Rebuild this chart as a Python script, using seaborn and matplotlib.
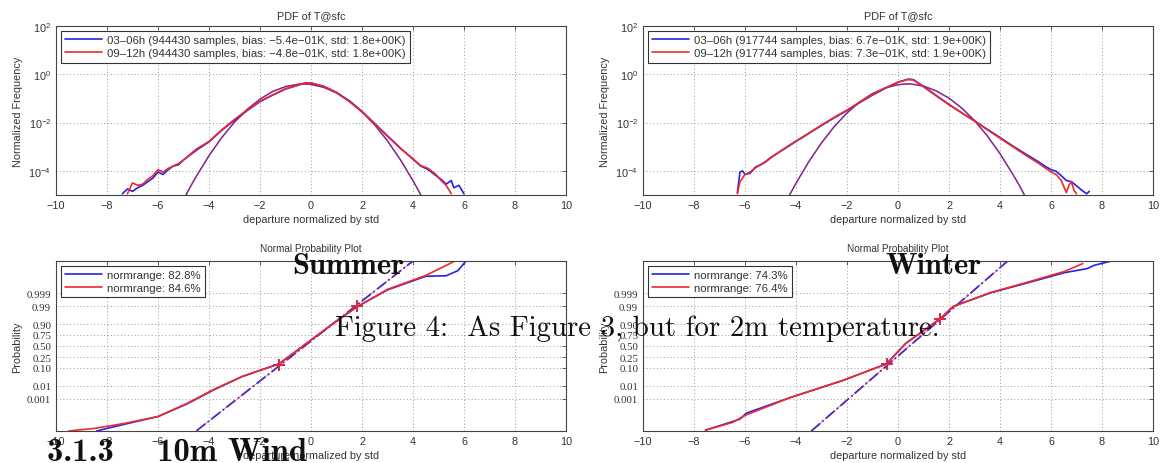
import matplotlib
matplotlib.use('Agg')
import matplotlib.pyplot as plt
import seaborn as sns
import numpy as np
from statistics import NormalDist
from matplotlib.ticker import NullLocator


# ---- data ------------------------------------------------------------------
# PDF panels: x = departure normalized by std, y = log10(normalized frequency)
summer_blue_x = [-7.4, -7.2, -7.0, -6.8, -6.6, -6.4, -6.2, -6.0, -5.8, -5.6, -5.4, -5.2, -5.0,
                 -4.5, -4.0, -3.5, -3.0, -2.5, -2.0, -1.5, -1.0, -0.5, -0.2, 0.0, 0.5, 1.0, 1.5,
                 2.0, 2.5, 3.0, 3.5, 4.0, 4.3, 4.6, 4.9, 5.1, 5.3, 5.5, 5.6, 5.8, 6.0]
summer_blue_exp = [-4.95, -4.75, -4.85, -4.7, -4.6, -4.45, -4.3, -4.05, -4.15, -3.95, -3.8, -3.75, -3.55,
                   -3.15, -2.8, -2.32, -1.9, -1.5, -1.13, -0.86, -0.61, -0.45, -0.35, -0.36, -0.5, -0.75, -1.1,
                   -1.54, -2.04, -2.55, -3.05, -3.52, -3.8, -3.95, -4.2, -4.35, -4.55, -4.4, -4.7, -4.6, -4.95]
summer_red_x = [-7.2, -7.0, -6.8, -6.6, -6.4, -6.2, -6.0, -5.8, -5.6, -5.4, -5.2, -5.0,
                -4.5, -4.0, -3.5, -3.0, -2.5, -2.0, -1.5, -1.0, -0.5, -0.2, 0.0, 0.5, 1.0, 1.5,
                2.0, 2.5, 3.0, 3.5, 4.0, 4.3, 4.6, 4.9, 5.1, 5.3, 5.5]
summer_red_exp = [-4.95, -4.5, -4.6, -4.55, -4.35, -4.2, -3.95, -4.05, -3.9, -3.8, -3.7, -3.55,
                  -3.1, -2.78, -2.3, -1.87, -1.47, -1.12, -0.85, -0.6, -0.44, -0.35, -0.36, -0.5, -0.76, -1.13,
                  -1.56, -2.06, -2.57, -3.07, -3.5, -3.78, -3.9, -4.15, -4.4, -4.6, -4.95]
summer_fit_x = [-4.9, -4.7, -4.5, -4.0, -3.5, -3.0, -2.5, -2.0, -1.5, -1.0, -0.5, -0.3, 0.0,
                0.5, 1.0, 1.5, 2.0, 2.5, 3.0, 3.5, 4.0, 4.2, 4.35]
summer_fit_exp = [-4.99, -4.6, -4.23, -3.37, -2.62, -1.98, -1.45, -1.03, -0.71, -0.51, -0.41, -0.40, -0.42,
                  -0.54, -0.77, -1.10, -1.55, -2.10, -2.76, -3.53, -4.41, -4.79, -5.09]

winter_blue_x = [-6.3, -6.2, -6.1, -6.0, -5.8, -5.6, -5.4, -5.2, -5.0, -4.5, -4.0, -3.5, -3.0, -2.5,
                 -2.0, -1.5, -1.0, -0.5, 0.0, 0.4, 0.6, 1.0, 1.5, 2.0, 2.5, 3.0, 3.5, 4.0, 4.5, 5.0,
                 5.5, 5.8, 6.0, 6.2, 6.4, 6.6, 6.8, 7.0, 7.2, 7.4, 7.5]
winter_blue_exp = [-4.9, -4.05, -4.0, -4.15, -4.1, -3.85, -3.75, -3.62, -3.45, -3.12, -2.78, -2.45, -2.12, -1.8,
                   -1.5, -1.17, -0.86, -0.58, -0.33, -0.2, -0.22, -0.5, -0.88, -1.25, -1.6, -1.93, -2.28, -2.62, -2.97, -3.3,
                   -3.62, -3.83, -3.95, -4.02, -4.2, -4.4, -4.45, -4.62, -4.8, -4.95, -4.85]
winter_red_x = [-6.3, -6.2, -6.0, -5.8, -5.6, -5.4, -5.2, -5.0, -4.5, -4.0, -3.5, -3.0, -2.5,
                -2.0, -1.5, -1.0, -0.5, 0.0, 0.4, 0.6, 1.0, 1.5, 2.0, 2.5, 3.0, 3.5, 4.0, 4.5, 5.0,
                5.5, 5.8, 6.0, 6.2, 6.4, 6.6, 6.7, 6.8, 6.9, 7.0]
winter_red_exp = [-4.95, -4.45, -4.15, -4.05, -3.88, -3.76, -3.64, -3.47, -3.1, -2.76, -2.44, -2.1, -1.78,
                  -1.48, -1.15, -0.85, -0.57, -0.32, -0.22, -0.24, -0.52, -0.9, -1.26, -1.6, -1.94, -2.3, -2.65, -3.0, -3.35,
                  -3.68, -3.9, -4.05, -4.15, -4.4, -4.9, -4.6, -4.45, -4.8, -4.95]
winter_fit_x = [-4.25, -4.0, -3.5, -3.0, -2.5, -2.0, -1.5, -1.0, -0.5, 0.0, 0.35, 0.5,
                1.0, 1.5, 2.0, 2.5, 3.0, 3.5, 4.0, 4.5, 4.75, 4.95]
winter_fit_exp = [-4.99, -4.51, -3.62, -2.84, -2.16, -1.60, -1.14, -0.80, -0.56, -0.43, -0.40, -0.40,
                  -0.49, -0.69, -0.99, -1.40, -1.92, -2.55, -3.29, -4.14, -4.59, -4.99]

# normal probability panels: x = departure, z = normal quantile of probability
summer_blue_np_x = [-8.4, -8.0, -7.3, -6.0, -4.85, -3.84, -2.7, -1.25, 0.0, 0.9, 1.8, 3.0, 4.5, 5.3, 5.76, 6.08]
summer_blue_np_z = [-5.0, -4.85, -4.6, -4.15, -3.4, -2.6, -1.8, -1.05, 0.35, 1.35, 2.3, 3.3, 4.1, 4.13, 4.43, 5.0]
summer_red_np_x = [-9.5, -8.5, -7.3, -6.0, -4.85, -3.84, -2.7, -1.25, 0.0, 0.9, 1.8, 3.0, 4.5, 5.65]
summer_red_np_z = [-5.0, -4.85, -4.55, -4.15, -3.37, -2.58, -1.79, -1.05, 0.35, 1.36, 2.3, 3.33, 4.15, 5.0]
summer_ref_x = [-4.5, 4.0]
summer_ref_z = [-5.0, 5.0]
summer_mark_x = [-1.25, 1.8]
summer_mark_z = [-1.1, 2.35]

winter_blue_np_x = [-7.55, -6.5, -6.2, -5.95, -4.2, -2.17, -0.45, 0.3, 1.65, 2.17, 3.62, 5.07, 6.52, 7.41, 7.7, 8.3]
winter_blue_np_z = [-4.95, -4.45, -4.3, -3.95, -3.02, -2.03, -1.05, 0.15, 1.6, 2.33, 3.12, 3.71, 4.31, 4.55, 4.75, 4.97]
winter_red_np_x = [-7.55, -6.5, -5.95, -4.2, -2.17, -0.45, 0.3, 1.65, 2.17, 3.62, 5.07, 6.52, 7.25]
winter_red_np_z = [-4.95, -4.5, -4.05, -3.02, -2.03, -1.05, 0.15, 1.6, 2.33, 3.14, 3.75, 4.38, 4.85]
winter_ref_x = [-3.4, 4.3]
winter_ref_z = [-5.0, 5.0]
winter_mark_x = [-0.45, 1.65]
winter_mark_z = [-1.05, 1.6]

summer_pdf_labels = ['03\u201306h (944430 samples, bias: \u22125.4e\u221201K, std: 1.8e+00K)',
                     '09\u201312h (944430 samples, bias: \u22124.8e\u221201K, std: 1.8e+00K)']
winter_pdf_labels = ['03\u201306h (917744 samples, bias: 6.7e\u221201K, std: 1.9e+00K)',
                     '09\u201312h (917744 samples, bias: 7.3e\u221201K, std: 1.9e+00K)']
summer_np_labels = ['normrange: 82.8%', 'normrange: 84.6%']
winter_np_labels = ['normrange: 74.3%', 'normrange: 76.4%']

prob_ticks = [0.001, 0.01, 0.10, 0.25, 0.50, 0.75, 0.90, 0.99, 0.999]
prob_tick_labels = ['0.001', '0.01', '0.10', '0.25', '0.50', '0.75', '0.90', '0.99', '0.999']

BLUE = '#2323e6'
RED = '#ee2a2a'
TXT = '#333333'

sns.set_style('white')
plt.rcParams['font.family'] = ['Liberation Sans', 'DejaVu Sans']
plt.rcParams['axes.unicode_minus'] = True


#==============================================================================
def style_axes(ax):
    for sp in ax.spines.values():
        sp.set_color('#444444')
        sp.set_linewidth(0.8)
    ax.tick_params(direction='in', length=3, width=0.6, colors='#444444',
                   labelcolor=TXT, labelsize=7.8, top=True, right=True)
    ax.grid(True, linestyle=(0, (1, 2.5)), color='#9a9a9a', linewidth=0.7)
    ax.set_xlim(-10, 10)
    ax.set_xticks(np.arange(-10, 11, 2))
    ax.set_xlabel('departure normalized by std', fontsize=7.8, color=TXT, labelpad=3)


def make_legend(ax, handles, labels, handlelength):
    leg = ax.legend(handles, labels, loc='upper left', fontsize=8.2, frameon=True,
                    fancybox=False, framealpha=1, edgecolor='#333333', borderpad=0.4,
                    handlelength=handlelength, handletextpad=0.45, labelspacing=0.25,
                    borderaxespad=0.4)
    leg.get_frame().set_linewidth(0.8)
    for t in leg.get_texts():
        t.set_color(TXT)


def pdf_panel(ax, bx, bexp, rx, rexp, fx, fexp, labels):
    sns.lineplot(x=fx, y=10 ** np.array(fexp), ax=ax, color=BLUE, lw=1.0, sort=False, estimator=None)
    sns.lineplot(x=fx, y=10 ** np.array(fexp), ax=ax, color=RED, lw=1.0, alpha=0.55, sort=False, estimator=None)
    sns.lineplot(x=bx, y=10 ** np.array(bexp), ax=ax, color=BLUE, lw=1.2, sort=False, estimator=None)
    hb = ax.lines[-1]
    sns.lineplot(x=rx, y=10 ** np.array(rexp), ax=ax, color=RED, lw=1.2, sort=False, estimator=None)
    hr = ax.lines[-1]
    ax.set_yscale('log')
    ax.set_ylim(1e-5, 1e2)
    ax.set_yticks([1e-4, 1e-2, 1e0, 1e2])
    ax.yaxis.set_minor_locator(NullLocator())
    style_axes(ax)
    ax.set_ylabel('Normalized Frequency', fontsize=7.8, color=TXT, labelpad=4)
    ax.set_title('PDF of T@sfc', fontsize=7.8, color=TXT, pad=6)
    make_legend(ax, [hb, hr], labels, 3.2)


def np_panel(ax, bx, bz, rx, rz, refx, refz, mx, mz, labels):
    sns.lineplot(x=refx, y=refz, ax=ax, color=BLUE, lw=1.3, linestyle='-.', sort=False, estimator=None)
    sns.lineplot(x=refx, y=refz, ax=ax, color=RED, lw=0.6, linestyle='-.', alpha=0.7, sort=False, estimator=None)
    sns.lineplot(x=bx, y=bz, ax=ax, color=BLUE, lw=1.2, sort=False, estimator=None)
    hb = ax.lines[-1]
    sns.lineplot(x=rx, y=rz, ax=ax, color=RED, lw=1.2, sort=False, estimator=None)
    hr = ax.lines[-1]
    ax.plot(mx, mz, '+', color=BLUE, ms=9, mew=1.2)
    ax.plot(mx, mz, '+', color=RED, ms=9, mew=1.2)
    ax.set_ylim(-5, 5)
    nd = NormalDist()
    ax.set_yticks([nd.inv_cdf(p) for p in prob_ticks])
    ax.set_yticklabels(prob_tick_labels, fontfamily='Liberation Serif')
    style_axes(ax)
    ax.set_ylabel('Probability', fontsize=7.8, color=TXT, labelpad=3)
    ax.set_title('Normal Probability Plot', fontsize=7.2, color=TXT, pad=7)
    make_legend(ax, [hb, hr], labels, 3.2)


fig = plt.figure(figsize=(11.62, 4.64), dpi=100)
ax_tl = fig.add_axes([0.0482, 0.5776, 0.4389, 0.3642])
ax_tr = fig.add_axes([0.5534, 0.5776, 0.4389, 0.3642])
ax_bl = fig.add_axes([0.0482, 0.0690, 0.4389, 0.3664])
ax_br = fig.add_axes([0.5534, 0.0690, 0.4389, 0.3664])

pdf_panel(ax_tl, summer_blue_x, summer_blue_exp, summer_red_x, summer_red_exp,
          summer_fit_x, summer_fit_exp, summer_pdf_labels)
pdf_panel(ax_tr, winter_blue_x, winter_blue_exp, winter_red_x, winter_red_exp,
          winter_fit_x, winter_fit_exp, winter_pdf_labels)
np_panel(ax_bl, summer_blue_np_x, summer_blue_np_z, summer_red_np_x, summer_red_np_z,
         summer_ref_x, summer_ref_z, summer_mark_x, summer_mark_z, summer_np_labels)
np_panel(ax_br, winter_blue_np_x, winter_blue_np_z, winter_red_np_x, winter_red_np_z,
         winter_ref_x, winter_ref_z, winter_mark_x, winter_mark_z, winter_np_labels)

# text of the page printed over the figures
fig.text(0.2513, 0.4095, 'Summer', fontfamily='cmb10', fontsize=22, color='#111111')
fig.text(0.7616, 0.4095, 'Winter', fontfamily='cmb10', fontsize=22, color='#111111')
fig.text(0.2883, 0.2759, 'Figure 4:  As Figure 3, but for 2m temperature.', fontfamily='cmr10',
         fontsize=20.8, color='#111111')
fig.text(0.0404, 0.0075, '3.1.3    10m Wind', fontfamily='cmb10', fontsize=23.5, color='#111111')

plt.savefig('out.png', dpi=100)
plt.close()
